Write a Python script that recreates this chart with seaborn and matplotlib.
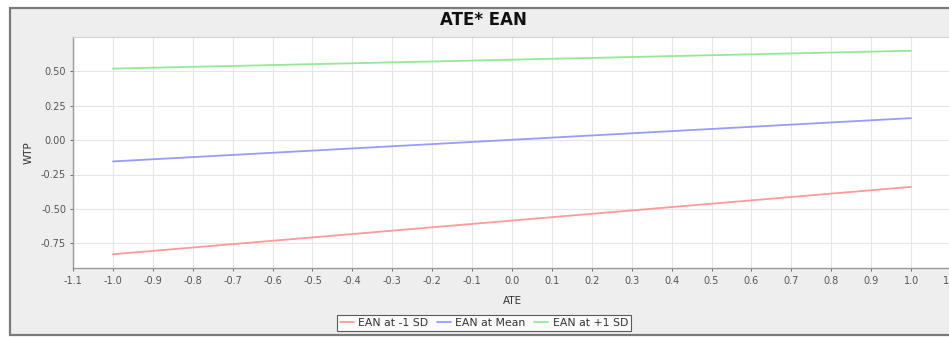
import matplotlib
matplotlib.use('Agg')
import matplotlib.pyplot as plt
import matplotlib.patches as patches
import pandas as pd
import seaborn as sns

# Data
ate = [-1.0, 1.0]
ean_low = [-0.83, -0.34]
ean_mean = [-0.155, 0.16]
ean_high = [0.52, 0.65]
series = ['EAN at -1 SD', 'EAN at Mean', 'EAN at +1 SD']
colors = ['#ff9a9a', '#9a9aff', '#96e896']
x_ticks = [round(-1.1 + 0.1 * i, 1) for i in range(23)]
y_ticks = [-0.75, -0.50, -0.25, 0.00, 0.25, 0.50]

df = pd.DataFrame({
    'ATE': ate * 3,
    'WTP': ean_low + ean_mean + ean_high,
    'series': [s for s in series for _ in ate],
})

sns.set_style('white')
plt.rcParams['font.family'] = ['DejaVu Sans']

fig = plt.figure(figsize=(9.49, 3.37), dpi=100)
fig.patch.set_facecolor('white')

# outer grey panel with border
W, H = 949, 337
panel = patches.Rectangle((10 / W, 2 / H), 1.2, 1 - 10 / H, transform=fig.transFigure,
                          facecolor='#eeeeee', edgecolor='#7a7a7a', linewidth=1.6, zorder=-10)
fig.patches.append(panel)

ax = fig.add_axes([73 / W, 1 - 268 / H, (951 - 73) / W, (268 - 37) / H])
ax.set_facecolor('white')

sns.lineplot(data=df, x='ATE', y='WTP', hue='series', hue_order=series,
             palette=dict(zip(series, colors)), linewidth=1.3, ax=ax, legend=False)

ax.set_xlim(-1.1, 1.1)
ax.set_ylim(-0.93, 0.75)
ax.set_xticks(x_ticks)
ax.set_xticklabels([f'{t:.1f}' for t in x_ticks])
ax.set_yticks(y_ticks)
ax.set_yticklabels([f'{t:.2f}' for t in y_ticks])
ax.grid(True, color='#e6e6e6', linewidth=0.8)
ax.tick_params(axis='both', labelsize=7, colors='#555555', length=2.5, width=0.6,
               direction='out', bottom=True, left=True)
ax.tick_params(axis='x', pad=3.5)
ax.tick_params(axis='y', pad=2.5)
for s in ['top', 'right']:
    ax.spines[s].set_color('#d0d0d0')
    ax.spines[s].set_linewidth(0.8)
for s in ['left', 'bottom']:
    ax.spines[s].set_color('#9a9a9a')
    ax.spines[s].set_linewidth(1.0)

ax.set_xlabel('ATE', fontsize=7.5, color='#333333', labelpad=7)
ax.set_ylabel('WTP', fontsize=7.5, color='#333333', labelpad=5)

fig.text(483 / W, 1 - 20 / H, 'ATE* EAN', ha='center', va='center',
         fontsize=12, fontweight='bold', color='#111111')

handles = [plt.Line2D([], [], color=c, linewidth=1.3) for c in colors]
leg = fig.legend(handles, series, loc='center', bbox_to_anchor=(484 / W, 1 - 323 / H),
                 ncol=3, fontsize=7.8, frameon=True, fancybox=False, handlelength=1.3,
                 handletextpad=0.4, columnspacing=0.8, borderpad=0.3, borderaxespad=0)
leg.get_frame().set_edgecolor('#333333')
leg.get_frame().set_linewidth(0.8)
leg.get_frame().set_facecolor('white')
for t in leg.get_texts():
    t.set_color('#333333')

fig.savefig('out.png', dpi=100)
